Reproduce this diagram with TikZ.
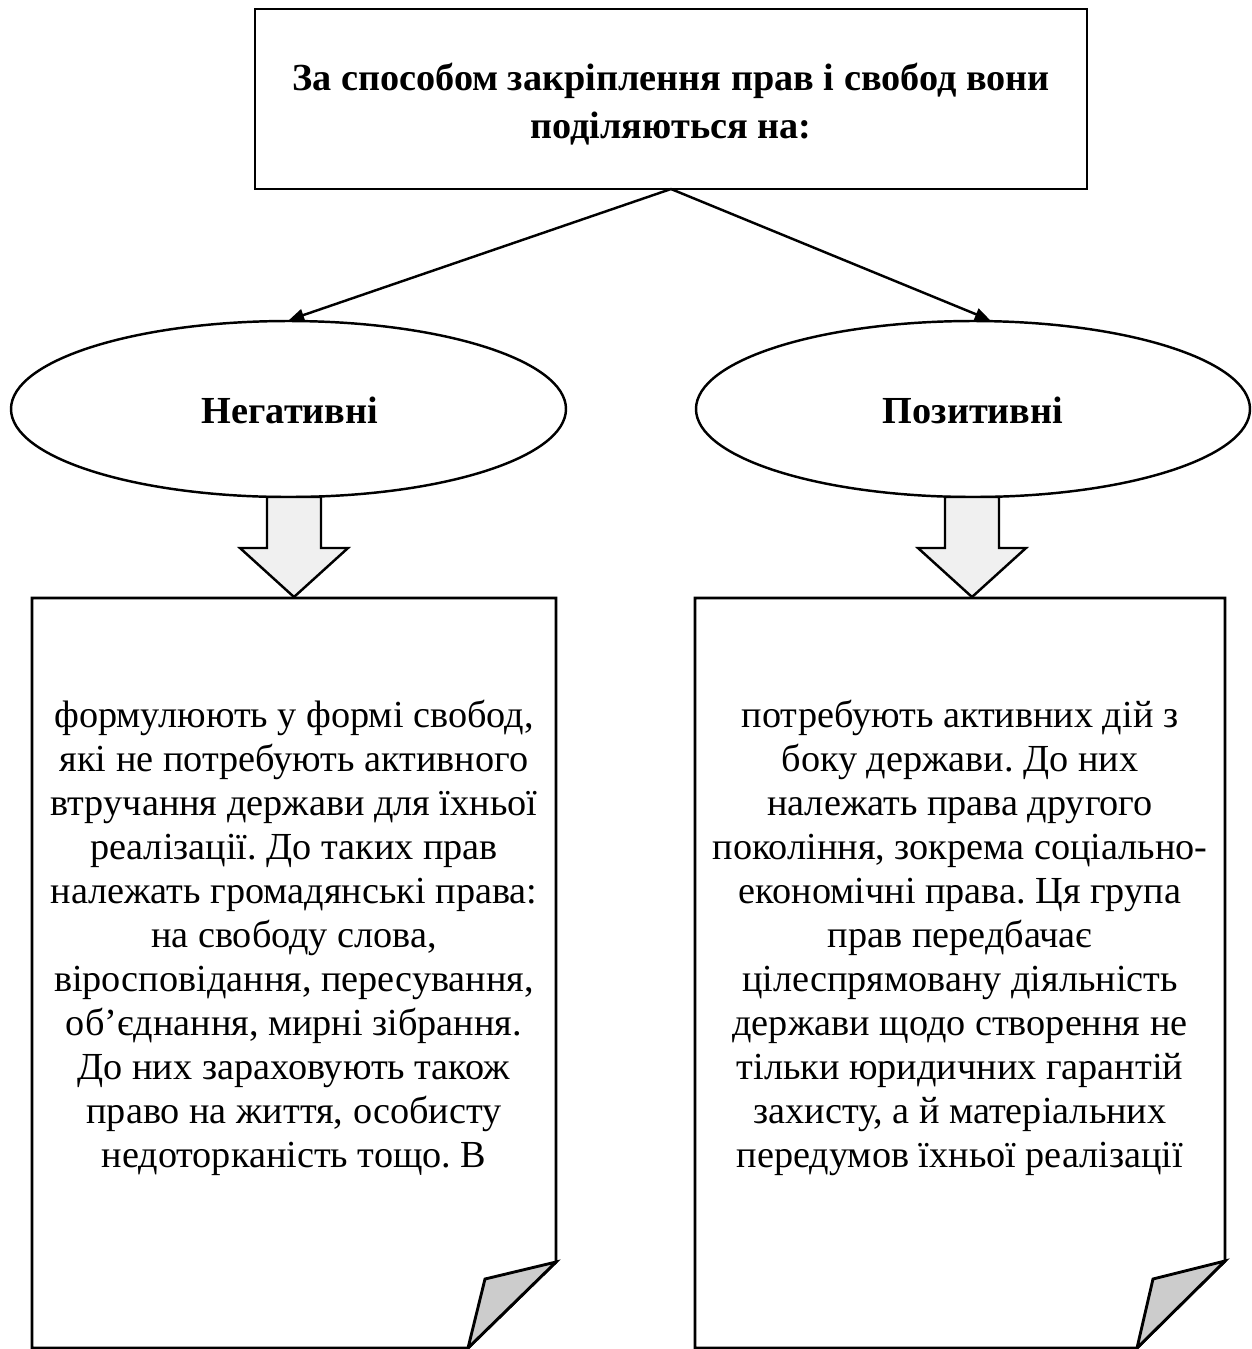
\documentclass[tikz,border=0pt]{standalone}
\usepackage{fontspec}
\setmainfont{Liberation Serif}
\usetikzlibrary{arrows.meta,shapes.geometric}
\frenchspacing
\begin{document}
\begin{tikzpicture}[x=0.366pt,y=-0.366pt,
  line/.style={line width=1.05pt},
  conn/.style={line width=0.9pt,-{Triangle[length=5.5pt,width=4.5pt]}},
  blockarrow/.style={line width=0.9pt,fill=black!6,line join=miter},
  doc/.style={line width=1.05pt,line join=miter},
  fold/.style={line width=1.05pt,fill=black!20,line join=miter},
  bodytext/.style={align=center,font=\fontsize{14pt}{16.1pt}\selectfont,inner sep=0pt},
  headtext/.style={align=center,font=\fontsize{14pt}{17.6pt}\selectfont\bfseries,inner sep=0pt}]
\useasboundingbox (0,0) rectangle (1252,1349);
% top rectangle
\draw[line] (255,9) rectangle (1087,189);
\coordinate (topbot) at (671,189);
\node[headtext] (title) at (671,104) {За способом закріплення прав і свобод вони\\поділяються на:};
% ellipses
\draw[line width=0.9pt] (288.5,409) ellipse [x radius=277.5,y radius=88];
\draw[line width=0.9pt] (973,409) ellipse [x radius=277,y radius=88];
\coordinate (negtop) at (289,320);
\coordinate (postop) at (990,320);
\node[headtext] (neg) at (290,410) {Негативні};
\node[headtext] (pos) at (973,410) {Позитивні};
% connectors
\draw[conn] (topbot) -- (negtop);
\draw[conn] (topbot) -- (postop);
% block arrows
\draw[blockarrow] (267,497) -- (321,497) -- (321,548) -- (348,548) -- (294,597) -- (240,548) -- (267,548) -- cycle;
\draw[blockarrow] (945,497) -- (999,497) -- (999,548) -- (1026,548) -- (972,597) -- (918,548) -- (945,548) -- cycle;
% documents
\draw[doc] (32,598) -- (556,598) -- (556,1262) -- (468,1348) -- (32,1348) -- cycle;
\draw[fold] (556,1262) -- (485,1279) -- (468,1348) -- cycle;
\draw[doc] (695,598) -- (1225,598) -- (1225,1261) -- (1137,1348) -- (695,1348) -- cycle;
\draw[fold] (1225,1261) -- (1153,1279) -- (1137,1348) -- cycle;
% texts
\node[bodytext,anchor=north] (negtext) at (294,700) {формулюють у формі свобод,\\які не потребують активного\\втручання держави для їхньої\\реалізації. До таких прав\\належать громадянські права:\\на свободу слова,\\віросповідання, пересування,\\об’єднання, мирні зібрання.\\До них зараховують також\\право на життя, особисту\\недоторканість тощо. В};
\node[bodytext,anchor=north] (postext) at (960,700) {потребують активних дій з\\боку держави. До них\\належать права другого\\покоління, зокрема соціально-\\економічні права. Ця група\\прав передбачає\\цілеспрямовану діяльність\\держави щодо створення не\\тільки юридичних гарантій\\захисту, а й матеріальних\\передумов їхньої реалізації};
\end{tikzpicture}
\end{document}
